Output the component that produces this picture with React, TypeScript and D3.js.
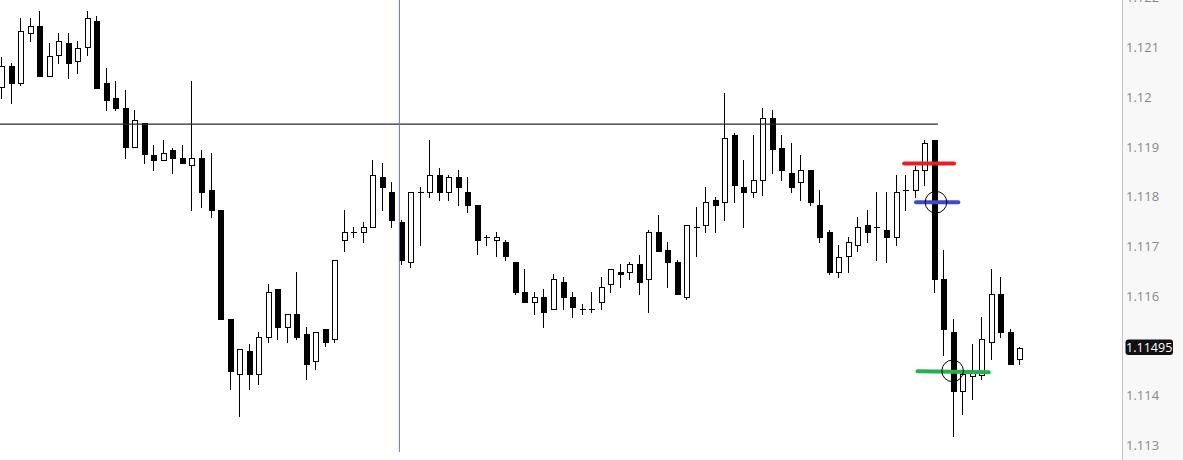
import React from 'react';
import * as d3 from 'd3';

// OHLC per bar
const opens = [
  1.12017, 1.12062, 1.12026, 1.12127, 1.12142, 1.12040, 1.12081, 1.12108, 1.12070, 1.12097,
  1.12152, 1.12028, 1.11997, 1.11977, 1.11896, 1.11947, 1.11883, 1.11871, 1.11893, 1.11877,
  1.11861, 1.11877, 1.11813, 1.11772, 1.11553, 1.11441, 1.11489, 1.11441, 1.11516, 1.11614,
  1.11536, 1.11563, 1.11523, 1.11467, 1.11533, 1.11512, 1.11711, 1.11728, 1.11727, 1.11737,
  1.11839, 1.11809, 1.11748, 1.11666, 1.11809, 1.11807, 1.11843, 1.11807, 1.11839, 1.11809,
  1.11782, 1.11719, 1.11711, 1.11708, 1.11668, 1.11608, 1.11586, 1.11597, 1.11572, 1.11628,
  1.11597, 1.11573, 1.11573, 1.11586, 1.11622, 1.11648, 1.11646, 1.11664, 1.11632, 1.11728,
  1.11692, 1.11668, 1.11596, 1.11738, 1.11741, 1.11792, 1.11787, 1.11923, 1.11819, 1.11807,
  1.11831, 1.11957, 1.11897, 1.11847, 1.11827, 1.11853, 1.11782, 1.11728, 1.11646, 1.11677,
  1.11701, 1.11742, 1.11738, 1.11732, 1.11717, 1.11813, 1.11811, 1.11851, 1.11913, 1.11634,
  1.11527, 1.11407, 1.11437, 1.11439, 1.11506, 1.11604, 1.11527, 1.11471,
];
const highs = [
  1.12079, 1.12068, 1.12158, 1.12158, 1.12172, 1.12109, 1.12128, 1.12128, 1.12112, 1.12172,
  1.12162, 1.12058, 1.12032, 1.12014, 1.11973, 1.11947, 1.11903, 1.11913, 1.11897, 1.11903,
  1.12032, 1.11893, 1.11887, 1.11772, 1.11553, 1.11493, 1.11503, 1.11528, 1.11624, 1.11614,
  1.11563, 1.11648, 1.11538, 1.11527, 1.11533, 1.11672, 1.11772, 1.11738, 1.11749, 1.11873,
  1.11867, 1.11829, 1.11752, 1.11809, 1.11819, 1.11913, 1.11857, 1.11843, 1.11853, 1.11839,
  1.11782, 1.11723, 1.11729, 1.11713, 1.11668, 1.11654, 1.11608, 1.11614, 1.11644, 1.11638,
  1.11608, 1.11583, 1.11608, 1.11638, 1.11654, 1.11664, 1.11668, 1.11682, 1.11732, 1.11762,
  1.11708, 1.11672, 1.11742, 1.11778, 1.11819, 1.11798, 1.12008, 1.11927, 1.11873, 1.11923,
  1.11977, 1.11973, 1.11923, 1.11907, 1.11883, 1.11853, 1.11813, 1.11732, 1.11702, 1.11718,
  1.11758, 1.11772, 1.11809, 1.11809, 1.11843, 1.11843, 1.11861, 1.11913, 1.11913, 1.11692,
  1.11553, 1.11447, 1.11503, 1.11557, 1.11654, 1.11638, 1.11533, 1.11497,
];
const lows = [
  1.11995, 1.11986, 1.12022, 1.12110, 1.12040, 1.12040, 1.12066, 1.12036, 1.12046, 1.12081,
  1.12016, 1.11972, 1.11972, 1.11875, 1.11896, 1.11865, 1.11851, 1.11871, 1.11845, 1.11865,
  1.11771, 1.11777, 1.11757, 1.11552, 1.11411, 1.11357, 1.11411, 1.11421, 1.11506, 1.11512,
  1.11506, 1.11512, 1.11431, 1.11451, 1.11496, 1.11506, 1.11687, 1.11717, 1.11707, 1.11737,
  1.11771, 1.11737, 1.11662, 1.11656, 1.11701, 1.11797, 1.11791, 1.11791, 1.11781, 1.11767,
  1.11681, 1.11701, 1.11677, 1.11670, 1.11602, 1.11586, 1.11562, 1.11536, 1.11572, 1.11572,
  1.11556, 1.11562, 1.11566, 1.11572, 1.11606, 1.11616, 1.11632, 1.11602, 1.11566, 1.11687,
  1.11616, 1.11602, 1.11592, 1.11677, 1.11727, 1.11727, 1.11751, 1.11787, 1.11737, 1.11797,
  1.11801, 1.11845, 1.11831, 1.11807, 1.11791, 1.11781, 1.11707, 1.11642, 1.11636, 1.11646,
  1.11687, 1.11707, 1.11670, 1.11666, 1.11701, 1.11771, 1.11797, 1.11821, 1.11606, 1.11478,
  1.11317, 1.11361, 1.11391, 1.11431, 1.11471, 1.11516, 1.11461, 1.11461,
];
const closes = [
  1.12062, 1.12026, 1.12132, 1.12142, 1.12040, 1.12082, 1.12112, 1.12066, 1.12098, 1.12158,
  1.12016, 1.11992, 1.11976, 1.11896, 1.11953, 1.11882, 1.11871, 1.11887, 1.11875, 1.11865,
  1.11877, 1.11807, 1.11771, 1.11552, 1.11447, 1.11493, 1.11441, 1.11517, 1.11608, 1.11536,
  1.11563, 1.11516, 1.11461, 1.11527, 1.11506, 1.11672, 1.11728, 1.11728, 1.11738, 1.11843,
  1.11817, 1.11751, 1.11670, 1.11809, 1.11809, 1.11843, 1.11807, 1.11839, 1.11817, 1.11781,
  1.11711, 1.11719, 1.11718, 1.11677, 1.11606, 1.11586, 1.11597, 1.11566, 1.11634, 1.11596,
  1.11576, 1.11573, 1.11573, 1.11618, 1.11654, 1.11642, 1.11664, 1.11626, 1.11728, 1.11687,
  1.11666, 1.11602, 1.11742, 1.11738, 1.11788, 1.11781, 1.11917, 1.11821, 1.11807, 1.11833,
  1.11957, 1.11892, 1.11851, 1.11817, 1.11853, 1.11787, 1.11717, 1.11646, 1.11678, 1.11708,
  1.11738, 1.11727, 1.11738, 1.11717, 1.11809, 1.11813, 1.11853, 1.11907, 1.11632, 1.11532,
  1.11407, 1.11443, 1.11447, 1.11513, 1.11604, 1.11526, 1.11461, 1.11495,
];

const priceTicks = [1.113, 1.114, 1.115, 1.116, 1.117, 1.118, 1.119, 1.12, 1.121, 1.122];
const hiddenTicks = [1.115]; // covered by the last-price tag
const lastPrice = 1.11495;

// drawn objects: level line, time marker, coloured strokes, circles
const levelLine = { price: 1.11945, from: -1, to: 98.4 };
const timeMarker = 41.8;
const strokes = [
  { color: '#ed1c24', from: 94.85, to: 100.1, p1: 1.11866, p2: 1.11866 },
  { color: '#3f48cc', from: 96.1, to: 100.55, p1: 1.11788, p2: 1.11788 },
  { color: '#22b14c', from: 96.26, to: 103.75, p1: 1.11448, p2: 1.11446 },
];
const circles = [
  { at: 98.2, price: 1.11788 },
  { at: 99.95, price: 1.11449 },
];

const W = 1183;
const H = 460;
const axisX = 1122;

const App: React.FC = () => {
  const x = d3.scaleLinear().domain([0, 107]).range([1.7, 1019.7]);
  const y = d3.scaleLinear().domain([1.113, 1.121]).range([445, 47]);

  const bars = d3.range(opens.length).map(i => ({
    i, o: opens[i], h: highs[i], l: lows[i], c: closes[i],
  }));

  return (
    <svg width={W} height={H} style={{ position: 'absolute', left: 0, top: 0, background: '#fff' }}>
      <g shapeRendering="crispEdges">
        {bars.map(d => {
          const cx = Math.floor(x(d.i));
          const top = Math.round(y(Math.max(d.o, d.c)));
          const bot = Math.round(y(Math.min(d.o, d.c)));
          return (
            <g key={d.i}>
              <line x1={cx + 0.5} x2={cx + 0.5} y1={y(d.h)} y2={y(d.l)} stroke="#000" strokeWidth={1} />
              {d.c === d.o ? (
                <line x1={cx - 2} x2={cx + 4} y1={top + 0.5} y2={top + 0.5} stroke="#000" strokeWidth={1} />
              ) : d.c > d.o ? (
                <rect x={cx - 1.5} y={top + 0.5} width={5} height={Math.max(bot - top - 1, 1)}
                  fill="#fff" stroke="#000" strokeWidth={1} />
              ) : (
                <rect x={cx - 2} y={top} width={6} height={Math.max(bot - top, 2)} fill="#000" />
              )}
            </g>
          );
        })}
      </g>

      <line x1={x(levelLine.from)} x2={x(levelLine.to)} y1={y(levelLine.price)} y2={y(levelLine.price)}
        stroke="#2a2a2a" strokeWidth={1.3} />
      <line x1={x(timeMarker)} x2={x(timeMarker)} y1={0} y2={452} stroke="#6c6ce0" strokeWidth={1} />

      {strokes.map((s, k) => (
        <line key={k} x1={x(s.from)} x2={x(s.to)} y1={y(s.p1)} y2={y(s.p2)}
          stroke={s.color} strokeWidth={4} strokeLinecap="round" />
      ))}
      {circles.map((c, k) => (
        <circle key={k} cx={x(c.at)} cy={y(c.price)} r={10.8} fill="none" stroke="#000" strokeWidth={1} />
      ))}

      <rect x={axisX} y={0} width={W - axisX} height={H} fill="#f8f8f8" />
      <line x1={axisX + 0.5} x2={axisX + 0.5} y1={0} y2={H} stroke="#c4c4c4" strokeWidth={1} />
      {priceTicks.filter(t => !hiddenTicks.includes(t)).map(t => (
        <text key={t} x={axisX + 4} y={y(t)} dominantBaseline="central"
          fontFamily="'Open Sans', sans-serif" fontSize={13} fill="#8a8a8a">
          {String(+t.toFixed(3))}
        </text>
      ))}
      <rect x={axisX + 3.5} y={y(lastPrice) - 8.5} width={47.5} height={15.5} rx={3} fill="#111" />
      <text x={axisX + 27.2} y={y(lastPrice) - 0.5} dominantBaseline="central" textAnchor="middle"
        fontFamily="'Open Sans', sans-serif" fontSize={12.5} fill="#fff">
        {lastPrice.toFixed(5)}
      </text>
    </svg>
  );
};

export default App;
